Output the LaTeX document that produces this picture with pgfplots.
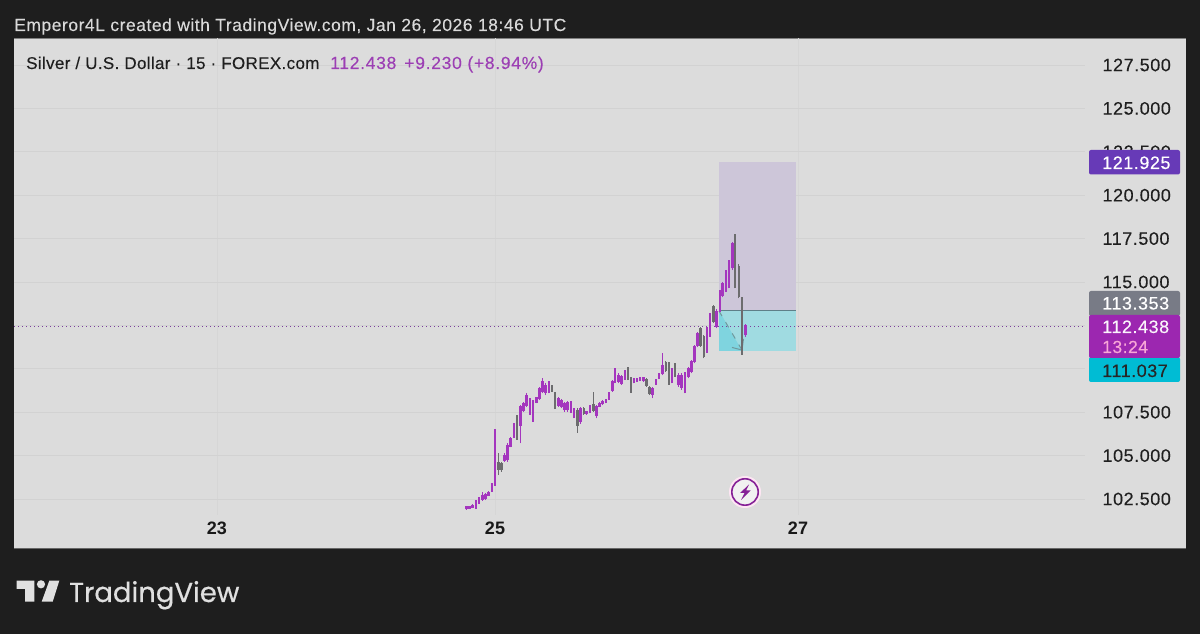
\documentclass[border=0pt]{standalone}
\usepackage{pgfplots}
\usepackage{pgfplotstable}
\usepackage{fontspec}
\pgfplotsset{compat=1.18}
\setmainfont{Liberation Sans}
\newfontfamily\logofont[FakeBold=0.6]{Poppins}
\newfontfamily\hdrfont[LetterSpace=3,FakeBold=0.15]{Liberation Sans}
\newfontfamily\ttlfont[LetterSpace=2,FakeBold=0.2]{Liberation Sans}
\newfontfamily\purfont[LetterSpace=4,FakeBold=0.2]{Liberation Sans}
\newfontfamily\numfont[LetterSpace=3,FakeBold=0.2]{Liberation Sans}
\definecolor{bgdark}{HTML}{1E1E1E}
\definecolor{panel}{HTML}{DCDCDC}
\definecolor{gridc}{HTML}{D2D2D2}
\definecolor{gridv}{HTML}{D6D6D6}
\definecolor{candp}{HTML}{A436BE}
\definecolor{candg}{HTML}{6C6C6E}
\definecolor{tagp}{HTML}{673AB7}
\definecolor{tagg}{HTML}{787B86}
\definecolor{tagm}{HTML}{9C27B0}
\definecolor{tagt}{HTML}{00BCD4}
\definecolor{upbox}{HTML}{CDC6D9}
\definecolor{dnbox}{HTML}{A0DBE1}
\definecolor{dnbox2}{HTML}{7FD4DF}
\definecolor{midline}{HTML}{5E7F88}
\definecolor{purtext}{HTML}{9C3FB4}
\definecolor{dotc}{HTML}{7A3F9C}
\pgfplotstableread{
x low blo bhi high
466.7 101.87 101.90 102.08 102.10
469.3 101.92 101.95 102.08 102.10
472.7 101.96 102.00 102.18 102.21
476.0 101.92 102.02 102.30 102.44
479.0 102.21 102.26 102.52 102.60
482.3 102.39 102.45 102.72 102.88
485.3 102.44 102.48 102.76 102.83
488.7 102.67 102.70 102.92 102.98
492.0 102.92 102.98 103.34 103.40
495.0 103.25 103.30 104.65 106.51
504.3 104.65 104.70 105.05 105.13
507.3 104.65 104.72 105.60 105.71
510.7 105.48 105.52 106.02 106.09
514.0 106.00 106.05 106.75 106.86
520.3 105.71 106.70 107.85 107.91
523.3 107.53 107.58 108.05 108.11
526.7 107.82 107.88 108.50 108.59
530.0 107.34 107.65 108.25 108.30
533.0 106.95 107.10 108.10 108.20
536.3 108.01 108.04 108.35 108.40
539.3 108.20 108.26 108.90 108.97
542.7 108.59 108.66 109.30 109.45
545.7 108.49 108.60 109.08 109.16
549.0 108.59 108.70 109.25 109.32
558.3 107.82 107.88 108.30 108.36
561.7 107.72 107.78 108.18 108.24
564.7 107.53 107.60 108.05 108.11
567.7 107.53 107.60 108.10 108.16
571.0 107.47 107.55 108.10 108.16
574.0 107.15 107.22 107.70 107.76
580.3 106.82 106.95 107.75 107.82
586.7 107.34 107.38 107.54 107.59
590.0 107.43 107.48 107.85 107.91
596.3 107.15 107.30 107.85 107.91
599.7 107.78 107.82 108.05 108.11
602.7 107.91 107.95 108.15 108.20
606.0 108.01 108.04 108.20 108.24
609.0 108.20 108.26 108.62 108.68
612.3 108.68 108.74 109.28 109.35
615.0 109.16 109.25 109.95 110.03
618.3 109.16 109.25 109.66 109.74
621.7 109.07 109.15 109.56 109.64
625.0 109.35 109.42 109.85 109.93
634.0 109.16 109.20 109.40 109.45
637.0 109.26 109.30 109.44 109.49
640.0 109.32 109.35 109.46 109.51
643.3 109.26 109.30 109.50 109.55
652.7 108.30 108.50 108.90 108.97
656.0 109.07 109.12 109.33 109.39
659.0 109.39 109.44 109.72 109.78
662.3 109.64 109.70 110.20 110.89
672.0 109.16 109.25 109.95 110.03
678.3 108.97 109.05 109.66 109.74
681.7 108.78 108.90 109.66 109.74
685.0 108.59 108.70 109.76 109.84
688.3 109.45 109.52 110.05 110.12
691.3 109.74 109.82 110.44 110.51
694.3 110.31 110.40 111.30 111.37
697.3 111.24 111.30 112.06 112.14
707.0 110.93 111.05 112.30 112.39
710.0 111.85 111.95 113.15 113.23
716.7 112.33 112.42 113.35 113.43
720.0 113.29 113.37 114.45 114.54
722.7 114.12 114.20 114.94 115.02
726.0 114.44 114.52 115.60 115.69
729.0 114.63 114.75 116.18 116.27
732.3 115.69 115.78 117.22 117.32
745.3 111.85 111.92 112.50 112.58
}\barsP
\pgfplotstableread{
x low blo bhi high
498.3 103.88 104.17 104.65 105.13
501.3 104.07 104.15 104.60 104.65
517.0 105.90 106.40 106.80 107.34
552.0 108.68 108.72 109.02 109.07
555.0 107.67 107.75 108.60 108.68
577.3 106.32 106.70 107.65 107.72
583.7 107.34 107.38 107.76 107.82
593.3 107.53 107.58 108.00 108.64
628.0 109.35 109.42 110.00 110.12
631.0 108.62 108.70 109.40 109.51
646.3 108.97 109.02 109.40 109.45
649.3 108.49 108.55 108.95 109.01
665.7 109.83 109.88 110.40 110.47
669.0 109.07 109.15 110.33 110.41
675.0 109.55 109.60 110.25 110.31
700.3 111.27 111.33 112.35 112.43
703.7 110.60 110.70 111.88 111.95
713.3 112.62 112.70 113.60 113.67
735.0 114.63 114.75 117.25 117.75
738.7 114.06 114.15 115.95 116.02
742.0 110.80 111.45 114.10 114.15
}\barsG
\begin{document}
\begin{tikzpicture}
\path[use as bounding box,fill=bgdark] (0,0) rectangle (1200pt,634pt);
\begin{scope}[x=1pt,y=-1pt,yshift=634pt]
\fill[panel] (14,38) rectangle (1186,549);
\draw[color=gray,line width=0.8pt] (14,38.2) -- (1186,38.2);
\draw[color=gray!80!black,line width=1pt] (14,549) -- (1186,549);
\end{scope}
\begin{axis}[
  at={(14pt,119pt)},anchor=south west,
  scale only axis,width=1071pt,height=477pt,
  xmin=14,xmax=1085,ymin=101.578,ymax=129.056,
  axis line style={draw=none},
  major tick length=0pt,
  clip=true,
  xtick={217,495,798},xticklabels={23,25,27},
  xticklabel pos=bottom,
  x tick label style={font=\fontsize{18}{20}\selectfont\bfseries,color=black!90,yshift=-3.5pt},
  ytick={102.5,105,107.5,110,112.5,115,117.5,120,122.5,125,127.5},
  yticklabel pos=right,
  yticklabels={102.500,105.000,107.500,,,115.000,117.500,120.000,122.500,125.000,127.500},
  y tick label style={font=\fontsize{18}{20}\selectfont\numfont,color=black!88,anchor=west,xshift=14pt},
  xmajorgrids,ymajorgrids,
  y grid style={color=gridc,line width=0.9pt},
  x grid style={color=gridv,line width=0.9pt},
]
\addplot[fill=upbox,draw=none] coordinates {(719,121.925)(796,121.925)(796,113.353)(719,113.353)} -- cycle;
\addplot[fill=dnbox,draw=none] coordinates {(719,113.353)(796,113.353)(796,111.037)(719,111.037)} -- cycle;
\addplot[fill=dnbox2,draw=none] coordinates {(719,113.353)(742,111.037)(719,111.037)} -- cycle;
\addplot[color=midline,line width=1.3pt] coordinates {(719,113.353)(796,113.353)};
\addplot[color=dotc,line width=1pt,dash pattern=on 1.4pt off 2.6pt] coordinates {(14,112.438)(1085,112.438)};
\addplot[color=black!30!dnbox,line width=1pt,dash pattern=on 6pt off 7pt] coordinates {(719,113.33)(742,111.08)};
\addplot[color=black!30!dnbox,line width=1pt] coordinates {(743.5,111.72)(742,111.08)(732,111.23)};
\addplot[draw=none,mark=none,error bars/.cd,y dir=plus,y explicit,error mark=none,
  error bar style={line width=1.4pt,color=candp}]
  table[x=x,y=low,y error plus expr=\thisrow{high}-\thisrow{low}] {\barsP};
\addplot[draw=none,mark=none,error bars/.cd,y dir=plus,y explicit,error mark=none,
  error bar style={line width=2.8pt,color=candp}]
  table[x=x,y=blo,y error plus expr=\thisrow{bhi}-\thisrow{blo}] {\barsP};
\addplot[draw=none,mark=none,error bars/.cd,y dir=plus,y explicit,error mark=none,
  error bar style={line width=1.4pt,color=candg}]
  table[x=x,y=low,y error plus expr=\thisrow{high}-\thisrow{low}] {\barsG};
\addplot[draw=none,mark=none,error bars/.cd,y dir=plus,y explicit,error mark=none,
  error bar style={line width=2.4pt,color=candg}]
  table[x=x,y=blo,y error plus expr=\thisrow{bhi}-\thisrow{blo}] {\barsG};
\end{axis}
\begin{scope}[x=1pt,y=-1pt,yshift=634pt]
% header
\node[anchor=base west,inner sep=0,text=white!85!black,font=\fontsize{17.5}{18}\selectfont\hdrfont] at (14,31) {Emperor4L created with TradingView.com, Jan 26, 2026 18:46 UTC};
\node[anchor=base west,inner sep=0,text=black!88,font=\fontsize{17}{18}\selectfont\ttlfont] at (26,69) {Silver / U.S. Dollar · 15 · FOREX.com};
\node[anchor=base west,inner sep=0,text=purtext,font=\fontsize{17.5}{18}\selectfont\purfont] at (330,69) {112.438\hspace{8pt}+9.230 (+8.94\%)};
% tags
\fill[tagp,rounded corners=2pt] (1089,150) rectangle (1180,174.5);
\node[anchor=base west,inner sep=0,text=white,font=\fontsize{18}{20}\selectfont\numfont] at (1102,169) {121.925};
\fill[tagg,rounded corners=2pt] (1089,291) rectangle (1180,316);
\node[anchor=base west,inner sep=0,text=white,font=\fontsize{18}{20}\selectfont\numfont] at (1102,309.5) {113.353};
\fill[tagt,rounded corners=2pt] (1089,357) rectangle (1180,382);
\node[anchor=base west,inner sep=0,text=black!85,font=\fontsize{18}{20}\selectfont\numfont] at (1102,377) {111.037};
\fill[tagm,rounded corners=2pt] (1089,315) rectangle (1180,358);
\node[anchor=base west,inner sep=0,text=white!95!tagm,font=\fontsize{18}{20}\selectfont\numfont] at (1102,333) {112.438};
\node[anchor=base west,inner sep=0,text=magenta!35!white,font=\fontsize{17.5}{20}\selectfont\numfont] at (1102,353) {13:24};
% event icon
\fill[white!90!magenta] (745,492) circle (16);
\draw[color=tagm!85!black,line width=1.6pt,fill=panel!40!white] (745,492) circle (13.2);
\fill[tagm!85!black] (749,484.5) -- (740,493) -- (744.5,493) -- (741,500) -- (750.5,490.5) -- (746,490.5) -- cycle;
% logo
\fill[white!88!black] (16.7,580.7) -- (34.3,580.7) -- (34.3,601.7) -- (25,601.7) -- (25,589) -- (16.7,589) -- cycle;
\fill[white!88!black] (41,584.3) circle (4.1);
\fill[white!88!black] (49.3,580.7) -- (59.3,580.7) -- (52.7,601.7) -- (41.7,601.7) -- cycle;
\node[anchor=base west,inner sep=0,text=white!88!black,font=\fontsize{27.5}{30}\selectfont\logofont] at (69,602) {TradingView};
\end{scope}
\end{tikzpicture}
\end{document}
